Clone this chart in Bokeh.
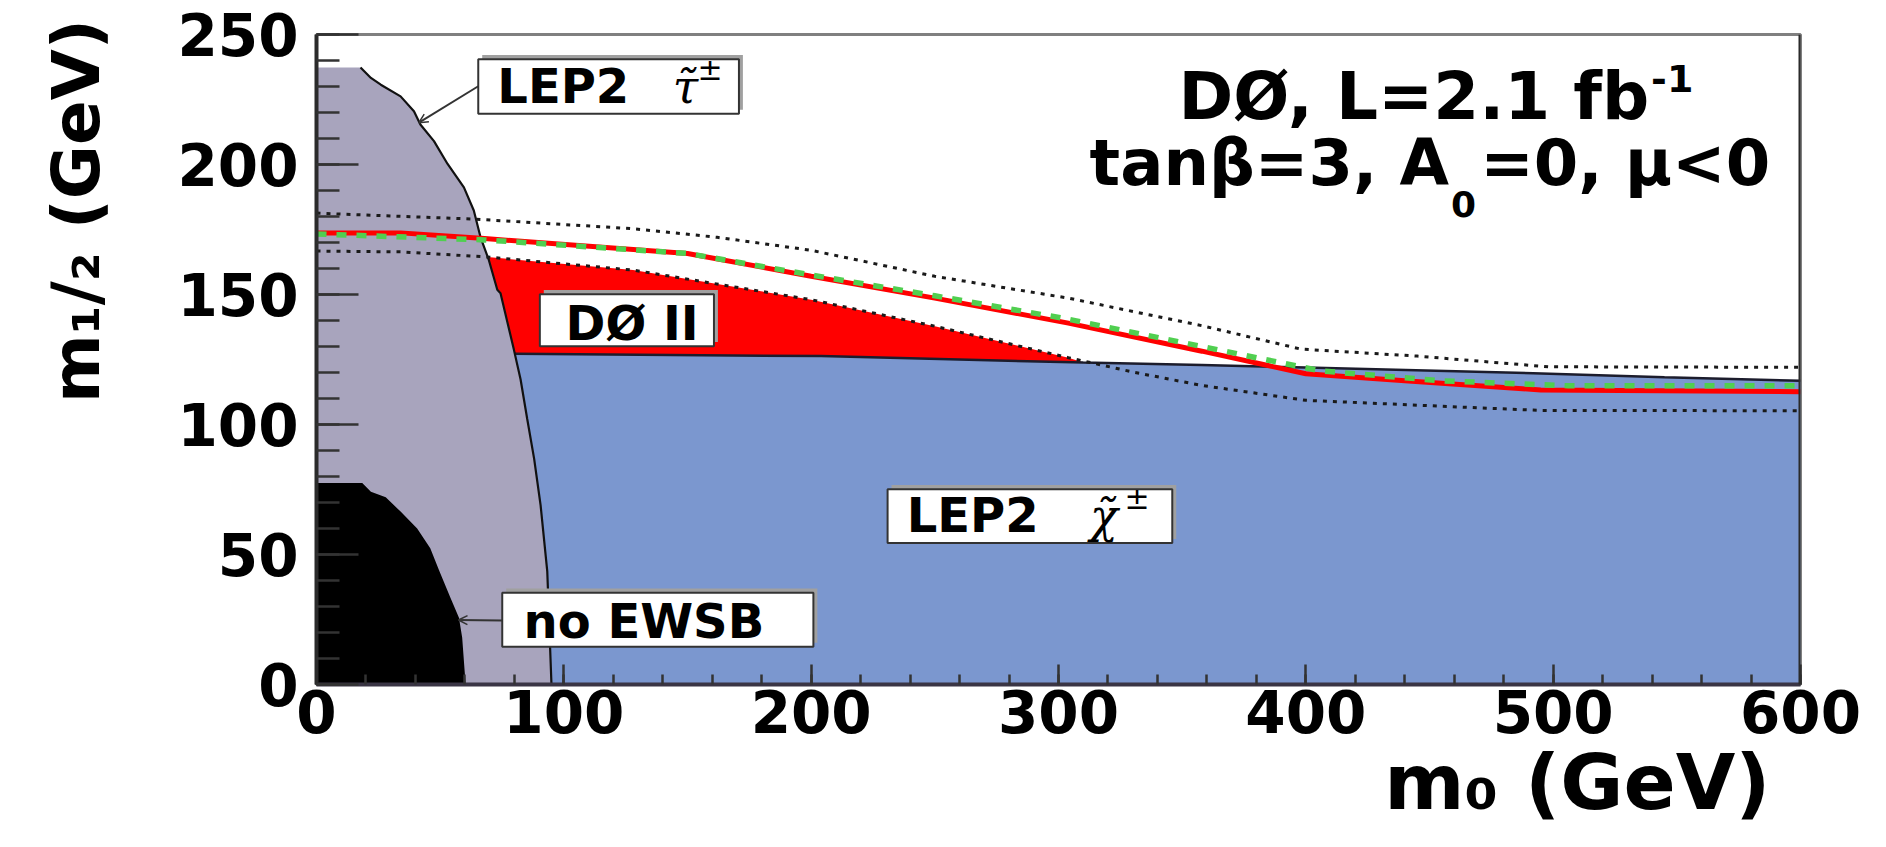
import numpy as np
from bokeh.plotting import figure
from bokeh.models import Range1d, Label, Arrow, OpenHead, Span, FixedTicker, Title
from bokeh.embed import file_html
from bokeh.resources import INLINE

# ---------------- data ----------------
# LEP2 stau exclusion (grey) boundary
stau_m0 = [0, 17.8, 22, 26, 34, 39.4, 42, 47.5, 53, 59.6, 63.6, 66.3, 69.7, 73.1, 74.4, 79.8, 82.5, 85.2, 88, 90.6, 93.3, 95]
stau_m12 = [237.3, 237.3, 233.3, 230.7, 226.2, 220.5, 215.4, 209, 200.2, 191.2, 182.3, 172.1, 163.2, 151.8, 150.5, 128.8, 117.4, 102.1, 86.8, 69, 43.5, 0]

# no EWSB region (black) boundary
ewsb_m0 = [0, 18.5, 22, 28, 34, 40.7, 46, 49.5, 54.2, 57.6, 58.9, 60.3]
ewsb_m12 = [77.5, 77.5, 74.1, 72, 66.5, 60, 52.4, 44, 33.3, 25.7, 18.1, 0]

# LEP2 chargino exclusion (blue) upper edge
cha_m0 = [0, 80, 204, 310, 358, 400, 492, 545, 600]
cha_m12 = [127.5, 127.2, 126.3, 123.8, 122.9, 121.9, 119.7, 118.2, 116.8]

# D0 Run II excluded region (red fill) upper edge
d0_m0 = [0, 34, 68, 128, 200, 250, 304, 310]
d0_m12 = [166.7, 166.4, 164.5, 159.4, 148, 137.8, 125.7, 123.8]

# limit curves
obs_m0 = [0, 34, 68, 150, 200, 250, 304, 358, 400, 440, 495, 600]
obs_m12 = [173.7, 173.7, 171.5, 165.8, 157, 148.6, 139, 128.2, 119.5, 116.8, 113.3, 112.6]

exp_m0 = [0, 68, 150, 200, 250, 304, 358, 406, 455, 506, 600]
exp_m12 = [173.3, 171, 165.8, 157.5, 149.5, 140.5, 130, 120.6, 116.8, 114.9, 114.9]

up_m0 = [0, 64, 128, 162, 200, 250, 304, 358, 398, 445, 498, 600]
up_m12 = [181.3, 179, 175.3, 172, 167, 157, 148.6, 138, 129, 126.3, 122.2, 122]

lo_m0 = [0, 34, 68, 128, 200, 250, 304, 331, 358, 400, 465, 495, 600]
lo_m12 = [166.7, 166.4, 164.5, 159.4, 148, 137.8, 125.7, 120, 115, 109.3, 106.6, 105.4, 105.3]

x_ticks = [0, 100, 200, 300, 400, 500, 600]
y_ticks = [0, 50, 100, 150, 200, 250]

# ---------------- figure ----------------
TOP = 34
p = figure(width=1886, height=847, x_range=Range1d(0, 600), y_range=Range1d(0, 250),
           output_backend="svg", toolbar_location=None, title=None,
           min_border_left=316, min_border_right=86, min_border_top=TOP, min_border_bottom=163)
p.background_fill_color = "white"
p.border_fill_color = "white"
p.xgrid.visible = False
p.ygrid.visible = False
p.outline_line_color = "#808080"
p.outline_line_width = 3

PX_PER_UNIT_Y = (847 - 163 - TOP) / 250.0

BLUE = "#7b97cf"
GREY = "#a8a4bd"
RED = "#ff0000"
GREEN = "#50cf50"

# blue chargino region
p.patch([0] + cha_m0 + [600], [0] + cha_m12 + [0], fill_color=BLUE, line_color=None)
# red D0 region: upper edge then back along the chargino edge
cha_lo_x = [x for x in cha_m0 if x <= d0_m0[-1]][::-1]
cha_lo_y = [y for x, y in zip(cha_m0, cha_m12) if x <= d0_m0[-1]][::-1]
p.patch(d0_m0 + cha_lo_x, d0_m12 + cha_lo_y, fill_color=RED, line_color=None)
p.line(cha_m0, cha_m12, line_color="#1c1c2c", line_width=2.5)
# grey stau region
p.patch([0] + stau_m0, [0] + stau_m12, fill_color=GREY, line_color=None)
p.line(stau_m0[1:], stau_m12[1:], line_color="#111111", line_width=2.2)
# black no EWSB region
p.patch([0] + ewsb_m0, [0] + ewsb_m12, fill_color="black", line_color=None)

# curves
p.line(up_m0, up_m12, line_color="#1a1a1a", line_width=3, line_dash="4 6")
p.line(lo_m0, lo_m12, line_color="#1a1a1a", line_width=3, line_dash="4 6")
p.line(obs_m0, obs_m12, line_color=RED, line_width=5)
p.line(exp_m0, exp_m12, line_color=GREEN, line_width=5.5, line_dash="10 10")

# right frame edge
p.add_layout(Span(location=600, dimension="height", line_color="#2b2b2b", line_width=4))

# ---------------- axes ----------------
p.xaxis.ticker = FixedTicker(ticks=x_ticks, minor_ticks=list(range(0, 601, 20)))
p.yaxis.ticker = FixedTicker(ticks=y_ticks, minor_ticks=list(range(0, 251, 10)))
for ax in (p.xaxis[0], p.yaxis[0]):
    ax.major_label_text_font = "DejaVu Sans"
    ax.major_label_text_font_style = "bold"
    ax.major_label_text_font_size = "58px"
    ax.major_label_text_color = "black"
    ax.axis_line_width = 4
    ax.major_tick_out = 0
    ax.minor_tick_out = 0
    ax.major_tick_line_color = "#333333"
    ax.minor_tick_line_color = "#333333"
    ax.major_tick_line_width = 2.5
    ax.minor_tick_line_width = 2.5
p.yaxis.axis_line_color = "#2b2b2b"
p.xaxis.axis_line_color = "#3a3545"
p.yaxis.major_tick_in = 42
p.yaxis.minor_tick_in = 23
p.xaxis.major_tick_in = 20
p.xaxis.minor_tick_in = 10
p.yaxis.major_label_standoff = 18
p.xaxis.major_label_standoff = 5

# y axis title (leading em spaces move it up along the axis)
p.yaxis.axis_label = "\u2003\u2003\u2003\u2003\u2002m\u2081/\u2082 (GeV)"
p.yaxis.axis_label_text_font = "DejaVu Sans"
p.yaxis.axis_label_text_font_style = "bold"
p.yaxis.axis_label_text_font_size = "66px"
p.yaxis.axis_label_text_color = "black"
p.yaxis.axis_label_standoff = 59

# x axis title
p.add_layout(Title(text="m\u2080 (GeV)", align="right", offset=30, standoff=0,
                   text_font="DejaVu Sans", text_font_style="bold",
                   text_font_size="77px", text_color="black"), "below")

# ---------------- boxes ----------------
boxes = [(65.4, 170.8, 240.5, 219.5), (90.3, 160.7, 150.1, 130.1),
         (230.9, 346.0, 75.1, 54.4), (75.1, 200.9, 35.3, 14.5)]
for (l, r, t, b) in boxes:
    p.quad(left=l + 1.6, right=r + 1.6, top=t + 1.6, bottom=b + 1.6,
           fill_color="#a0a0a0", line_color=None)
    p.quad(left=l, right=r, top=t, bottom=b, fill_color="white",
           line_color="#333333", line_width=2)

p.add_layout(Arrow(end=OpenHead(size=9, line_color="#333333", line_width=1.5),
                   x_start=65.4, y_start=230.1, x_end=41.4, y_end=216.1,
                   line_color="#333333", line_width=2))
p.add_layout(Arrow(end=OpenHead(size=9, line_color="#333333", line_width=1.5),
                   x_start=75.1, y_start=24.6, x_end=57.4, y_end=24.8,
                   line_color="#333333", line_width=2))


def lab(x, y, text, size, align="left", font="DejaVu Sans", style="bold"):
    # y is the text baseline; anchor the label at the middle of its text box
    ym = y + 0.346 * size / PX_PER_UNIT_Y
    p.add_layout(Label(x=x, y=ym, text=text, text_font=font, text_font_style=style,
                       text_font_size=f"{size}px", text_align=align,
                       text_baseline="middle", text_color="black"))


# box labels
lab(73.1, 223.7, "LEP2", 48)
lab(144.0, 223.8, "\u03c4\u0303", 46, font="DejaVu Serif", style="italic")
lab(154.0, 232.6, "\u00b1", 30, style="normal")
lab(100.7, 132.7, "D\u00d8 II", 48)
lab(238.6, 58.8, "LEP2", 48)
lab(312.7, 58.8, "\u03c7\u0303", 46, font="DejaVu Serif", style="italic")
lab(326.7, 67.6, "\u00b1", 30, style="normal")
lab(83.7, 18.1, "no EWSB", 48)

# top-right text
lab(538.8, 217.3, "D\u00d8, L=2.1 fb", 66, align="right")
lab(539.6, 228.0, "-1", 38)
lab(457.9, 191.9, "tan\u03b2=3, A", 64, align="right")
lab(458.7, 179.9, "0", 36)
lab(470.5, 191.9, "=0, \u03bc<0", 64)

open("out.html", "w").write(file_html(p, INLINE))
